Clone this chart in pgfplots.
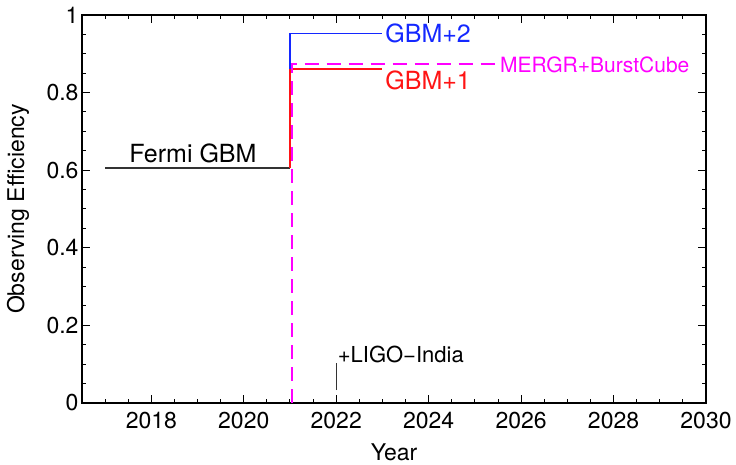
\documentclass[border=0pt]{standalone}
\usepackage{fontspec}
\setmainfont{TeX Gyre Heros}
\usepackage{pgfplots}
\pgfplotsset{compat=1.18}
\definecolor{mag}{RGB}{255,0,255}
\definecolor{rd}{RGB}{255,20,20}
\definecolor{bl}{RGB}{20,40,255}
\begin{document}
\begin{tikzpicture}
\useasboundingbox (0,0) rectangle (736bp,465bp);
\begin{axis}[
  at={(82bp,62bp)}, anchor=south west,
  scale only axis, width=624bp, height=388bp,
  xmin=2016.5, xmax=2030, ymin=0, ymax=1,
  xtick={2018,2020,...,2030},
  xticklabels={2018,2020,2022,2024,2026,2028,2030},
  minor xtick={2017,2017.5,...,2029.5},
  ytick={0,0.2,0.4,0.6,0.8,1},
  yticklabels={0,0.2,0.4,0.6,0.8,1},
  minor ytick={0.05,0.1,0.15,0.25,0.3,0.35,0.45,0.5,0.55,0.65,0.7,0.75,0.85,0.9,0.95},
  tick align=inside,
  major tick length=8bp, minor tick length=4bp,
  every tick/.style={black, line width=1bp},
  axis line style={line width=1.2bp},
  tick label style={font=\fontsize{23bp}{27bp}\selectfont},
  xticklabel style={yshift=-6bp},
  label style={font=\fontsize{23bp}{27bp}\selectfont},
  xlabel={Year},
  ylabel={Observing Efficiency},
  xlabel style={at={(axis description cs:0.5,-0.1263)}, anchor=center},
  ylabel style={at={(axis description cs:-0.1026,0.5)}, anchor=center},
  /pgf/number format/assume math mode=true,
  clip=false,
]
\addplot[black!80, line width=1.4bp] coordinates {(2017,0.606) (2021,0.606)};
\addplot[rd, line width=1.4bp] coordinates {(2021,0.606) (2021,0.861) (2023,0.861)};
\addplot[bl, line width=1.3bp] coordinates {(2021,0.861) (2021,0.953) (2023,0.953)};
\addplot[mag, line width=1.3bp, dash pattern=on 14bp off 8bp] coordinates {(2021.04,0) (2021.04,0.874) (2025.45,0.874)};
\addplot[black!80, line width=1.2bp] coordinates {(2022,0.033) (2022,0.102)};
\node[anchor=base west, inner sep=0pt, font=\fontsize{25bp}{29bp}\selectfont] at (axis cs:2017.52,0.62) {Fermi GBM};
\node[anchor=west, inner sep=0pt, text=bl, font=\fontsize{25bp}{29bp}\selectfont] at (axis cs:2023.06,0.953) {GBM+2};
\node[anchor=west, inner sep=0pt, text=rd, font=\fontsize{25bp}{29bp}\selectfont] at (axis cs:2023.06,0.832) {GBM+1};
\node[anchor=west, inner sep=0pt, text=mag, font=\fontsize{21bp}{25bp}\selectfont] at (axis cs:2025.54,0.872) {MERGR+BurstCube};
\node[anchor=west, inner sep=0pt, font=\fontsize{22bp}{26bp}\selectfont] at (axis cs:2022.03,0.124) {+LIGO\textminus India};
\end{axis}
\end{tikzpicture}
\end{document}
